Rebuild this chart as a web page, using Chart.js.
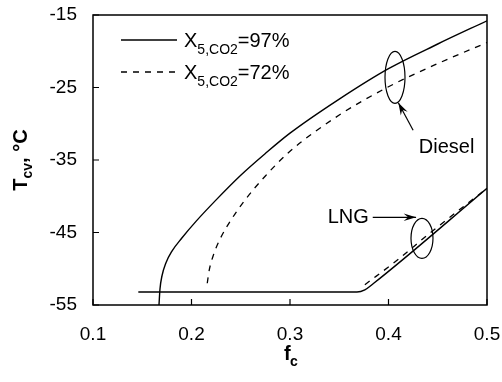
<!DOCTYPE html>
<html>
<head>
<meta charset="utf-8">
<script src="https://cdn.jsdelivr.net/npm/chart.js@4.4.1/dist/chart.umd.min.js"></script>
<style>
  html, body { margin: 0; padding: 0; background: #fff; }
  #wrap { width: 502px; height: 382px; }
</style>
</head>
<body>
<div id="wrap"><canvas id="tcvChart" width="502" height="382"></canvas></div>
<script>
// values
const xTicks = [0.1, 0.2, 0.3, 0.4, 0.5];
const yTicks = [-55, -45, -35, -25, -15];

const dieselFc97 = [0.167, 0.168, 0.170, 0.174, 0.180, 0.190, 0.205, 0.225, 0.250, 0.275, 0.300, 0.350, 0.400, 0.450, 0.500];
const dieselT97  = [-55.0, -52.8, -51.0, -49.2, -47.6, -45.8, -43.4, -40.5, -37.1, -34.1, -31.3, -26.6, -22.4, -19.0, -15.8];

const dieselFc72 = [0.216, 0.218, 0.222, 0.229, 0.240, 0.255, 0.275, 0.300, 0.350, 0.400, 0.450, 0.500];
const dieselT72  = [-52.0, -50.2, -48.2, -45.9, -43.3, -40.4, -37.2, -33.8, -28.8, -24.9, -21.7, -18.8];

const lngFc97 = [0.146, 0.368, 0.376, 0.385, 0.500];
const lngT97  = [-53.2, -53.2, -52.9, -52.0, -38.9];

const lngFc72 = [0.376, 0.410, 0.440, 0.500];
const lngT72  = [-52.2, -48.7, -45.3, -38.9];

const legendLabels = ['=97%', '=72%'];

function pts(xs, ys) {
    return xs.map((x, i) => ({ x: x, y: ys[i] }));
}

const FONT = '"Liberation Sans", Arial, Helvetica, sans-serif';

// frame, inward ticks, titles, legend and annotations
const decor = {
    id: 'decor',
    afterDraw(chart) {
        const { ctx, chartArea: a, scales } = chart;
        const xs = scales.x, ys = scales.y;
        ctx.save();
        ctx.strokeStyle = '#000';
        ctx.fillStyle = '#000';
        ctx.lineWidth = 1.5;
        ctx.strokeRect(a.left, a.top, a.right - a.left, a.bottom - a.top);

        ctx.lineWidth = 1.2;
        ctx.beginPath();
        xTicks.forEach(v => {
            const px = xs.getPixelForValue(v);
            ctx.moveTo(px, a.bottom); ctx.lineTo(px, a.bottom - 6);
        });
        yTicks.forEach(v => {
            const py = ys.getPixelForValue(v);
            ctx.moveTo(a.left, py); ctx.lineTo(a.left + 6, py);
        });
        ctx.stroke();

        // x title: f_c
        ctx.textBaseline = 'alphabetic';
        ctx.textAlign = 'left';
        const cx = (a.left + a.right) / 2;
        ctx.font = 'bold 20px ' + FONT;
        ctx.fillText('f', cx - 6, 360);
        ctx.font = 'bold 14px ' + FONT;
        ctx.fillText('c', cx, 366);

        // y title: T_cv, °C
        ctx.save();
        ctx.translate(27, (a.top + a.bottom) / 2);
        ctx.rotate(-Math.PI / 2);
        ctx.font = 'bold 20px ' + FONT;
        let w1 = ctx.measureText('T').width;
        ctx.font = 'bold 14px ' + FONT;
        let w2 = ctx.measureText('cv').width;
        ctx.font = 'bold 20px ' + FONT;
        let w3 = ctx.measureText(', °C').width;
        let sx = -(w1 + w2 + w3) / 2;
        ctx.fillText('T', sx, 0);
        ctx.font = 'bold 14px ' + FONT;
        ctx.fillText('cv', sx + w1, 5);
        ctx.font = 'bold 20px ' + FONT;
        ctx.fillText(', °C', sx + w1 + w2, 0);
        ctx.restore();

        // legend
        const legY = [40, 72];
        chart.data.datasets.slice(0, 2).forEach((ds, i) => {
            ctx.lineWidth = 1.3;
            ctx.setLineDash(ds.borderDash || []);
            ctx.beginPath();
            ctx.moveTo(121, legY[i]); ctx.lineTo(177, legY[i]);
            ctx.stroke();
            ctx.setLineDash([]);
            ctx.font = '20px ' + FONT;
            ctx.fillText('X', 184, legY[i] + 7);
            let wx = ctx.measureText('X').width;
            ctx.font = '14px ' + FONT;
            ctx.fillText('5,CO2', 184 + wx, legY[i] + 14);
            let ws = ctx.measureText('5,CO2').width;
            ctx.font = '20px ' + FONT;
            ctx.fillText(legendLabels[i], 184 + wx + ws, legY[i] + 7);
        });

        // annotations
        function ellipse(fx, ty, rx, ry) {
            ctx.beginPath();
            ctx.ellipse(xs.getPixelForValue(fx), ys.getPixelForValue(ty), rx, ry, 0, 0, Math.PI * 2);
            ctx.stroke();
        }
        function arrow(f0, t0, f1, t1) {
            const x0 = xs.getPixelForValue(f0), y0 = ys.getPixelForValue(t0);
            const x1 = xs.getPixelForValue(f1), y1 = ys.getPixelForValue(t1);
            const ang = Math.atan2(y1 - y0, x1 - x0);
            ctx.beginPath();
            ctx.moveTo(x0, y0); ctx.lineTo(x1, y1); ctx.stroke();
            ctx.beginPath();
            ctx.moveTo(x1, y1);
            ctx.lineTo(x1 - 13 * Math.cos(ang - 0.3), y1 - 13 * Math.sin(ang - 0.3));
            ctx.lineTo(x1 - 8 * Math.cos(ang), y1 - 8 * Math.sin(ang));
            ctx.lineTo(x1 - 13 * Math.cos(ang + 0.3), y1 - 13 * Math.sin(ang + 0.3));
            ctx.closePath();
            ctx.fill();
        }
        ctx.lineWidth = 1.2;
        ellipse(0.4066, -23.6, 10, 26);
        arrow(0.425, -30.9, 0.410, -27.1);
        ellipse(0.434, -45.8, 11, 20);
        arrow(0.384, -42.9, 0.428, -42.9);

        ctx.font = '20px ' + FONT;
        ctx.textAlign = 'center';
        ctx.textBaseline = 'middle';
        ctx.fillText('Diesel', xs.getPixelForValue(0.459), ys.getPixelForValue(-33.3));
        ctx.textAlign = 'right';
        ctx.fillText('LNG', xs.getPixelForValue(0.380), ys.getPixelForValue(-42.9));
        ctx.restore();
    }
};

const ctx = document.getElementById('tcvChart').getContext('2d');
const tcvChart = new Chart(ctx, {
    type: 'line',
    data: {
        datasets: [
            { label: 'Diesel 97%', data: pts(dieselFc97, dieselT97), borderColor: '#000', borderWidth: 1.4 },
            { label: 'Diesel 72%', data: pts(dieselFc72, dieselT72), borderColor: '#000', borderWidth: 1.3, borderDash: [6, 6] },
            { label: 'LNG 97%', data: pts(lngFc97, lngT97), borderColor: '#000', borderWidth: 1.4 },
            { label: 'LNG 72%', data: pts(lngFc72, lngT72), borderColor: '#000', borderWidth: 1.3, borderDash: [6, 6] }
        ]
    },
    options: {
        responsive: false,
        animation: false,
        layout: { padding: { top: 15, right: 15, left: 0, bottom: 0 } },
        elements: {
            point: { radius: 0 },
            line: { cubicInterpolationMode: 'monotone', fill: false }
        },
        plugins: { legend: { display: false }, tooltip: { enabled: false } },
        scales: {
            x: {
                type: 'linear',
                min: 0.1, max: 0.5,
                afterFit: s => { s.height = 77; s.paddingLeft = 0; s.paddingRight = 0; },
                afterBuildTicks: s => { s.ticks = xTicks.map(v => ({ value: v })); },
                grid: { display: false },
                border: { display: false },
                ticks: {
                    color: '#000', padding: 10,
                    font: { family: FONT, size: 19 },
                    callback: v => v.toFixed(1)
                }
            },
            y: {
                type: 'linear',
                min: -55, max: -15,
                afterFit: s => { s.width = 93; s.paddingTop = 0; s.paddingBottom = 0; },
                afterBuildTicks: s => { s.ticks = yTicks.map(v => ({ value: v })); },
                grid: { display: false },
                border: { display: false },
                ticks: {
                    color: '#000', padding: 8,
                    font: { family: FONT, size: 19 },
                    callback: v => String(v)
                }
            }
        }
    },
    plugins: [decor]
});
</script>
</body>
</html>
